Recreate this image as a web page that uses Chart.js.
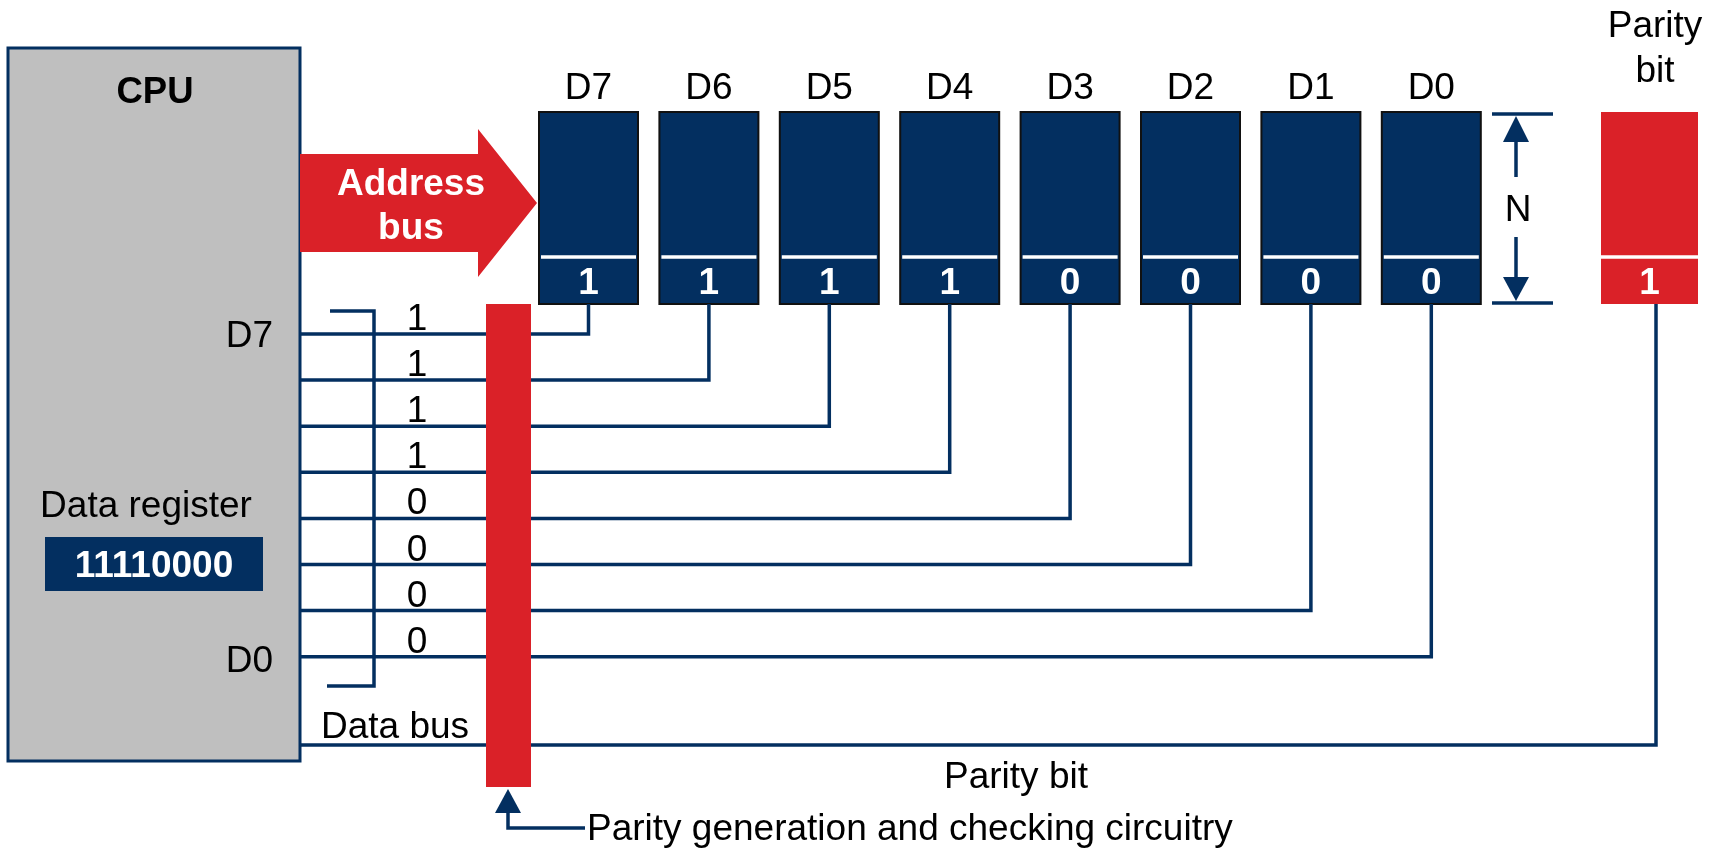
<!DOCTYPE html>
<html>
<head>
<meta charset="utf-8">
<script src="https://cdn.jsdelivr.net/npm/chart.js@4.4.1/dist/chart.umd.min.js"></script>
<style>
  html, body { margin: 0; padding: 0; background: #fff; }
  #wrap { width: 1721px; height: 852px; }
</style>
</head>
<body>
<div id="wrap"><canvas id="diagram"></canvas></div>
<script>
// Values shown in the picture
const cellLabels = ['D7', 'D6', 'D5', 'D4', 'D3', 'D2', 'D1', 'D0'];
const bitValues = [1, 1, 1, 1, 0, 0, 0, 0];
const parityValue = 1;
const registerValue = '11110000';

// Layout, in canvas pixels on the hidden axes
const W = 1721, H = 852;
const NAVY = '#032f60', RED = '#da2128', GRAY = '#bfbfbf';
const FONT = '"Liberation Sans", Arial, sans-serif';
const TXT = 37;
const cellLeft = 539, cellPitch = 120.4, cellWidth = 99;
const cellTop = 112, cellBottom = 304, cellSplit = 257;
const wireTop = 334, wireStep = 46.1, wireStart = 300;
const parityLeft = 1601, parityRight = 1698;
const parityWireX = 1656, parityWireY = 745;

const datasets = [];
const texts = [];

function poly(points, opts) {
  datasets.push(Object.assign({
    type: 'line',
    data: points.map(p => ({ x: p[0], y: p[1] })),
    showLine: true,
    pointRadius: 0,
    borderWidth: 0,
    borderColor: 'rgba(0,0,0,0)',
    backgroundColor: 'rgba(0,0,0,0)',
    borderJoinStyle: 'miter',
    borderCapStyle: 'butt',
    fill: false,
    tension: 0
  }, opts));
}
function rect(x1, y1, x2, y2, opts) {
  // extra point closes the outline corner cleanly
  poly([[x1, y1], [x2, y1], [x2, y2], [x1, y2], [x1, y1], [x2, y1]], Object.assign({ fill: 'shape' }, opts));
}
function wire(points, color, width) {
  poly(points, { borderColor: color || NAVY, borderWidth: width || 3.5 });
}
function shape(points, color) {
  poly(points, { fill: 'shape', backgroundColor: color || NAVY });
}
function label(text, x, y, size, opts) {
  texts.push(Object.assign({ text: String(text), x: x, y: y, size: size, bold: false, color: '#000', align: 'center' }, opts));
}

// CPU block
rect(8, 48, 300, 761, { backgroundColor: GRAY, borderColor: NAVY, borderWidth: 3 });
rect(45, 537, 263, 591, { backgroundColor: NAVY });
label('CPU', 155, 103, 36.5, { bold: true });
label('Data register', 146, 517, TXT);
label(registerValue, 154, 577, 37, { bold: true, color: '#fff' });
label('D7', 273, 347, TXT, { align: 'right' });
label('D0', 273, 672, TXT, { align: 'right' });

// Address bus arrow
shape([[300, 154], [478, 154], [478, 129], [537, 203], [478, 277], [478, 252], [300, 252], [300, 154]], RED);
label('Address', 411, 195, 37, { bold: true, color: '#fff' });
label('bus', 411, 239, 37, { bold: true, color: '#fff' });

// Memory cells
cellLabels.forEach((name, i) => {
  const l = cellLeft + i * cellPitch;
  const cx = l + cellWidth / 2;
  rect(l, cellTop, l + cellWidth, cellBottom, { backgroundColor: NAVY, borderColor: '#111', borderWidth: 2 });
  wire([[l + 2, cellSplit], [l + cellWidth - 2, cellSplit]], '#ffffff', 3.5);
  label(name, cx, 99, TXT);
  label(bitValues[i], cx, 294, 37, { bold: true, color: '#fff' });
});

// Parity cell
rect(parityLeft, cellTop, parityRight, cellBottom, { backgroundColor: RED });
wire([[parityLeft, cellSplit], [parityRight, cellSplit]], '#ffffff', 3.5);
label(parityValue, (parityLeft + parityRight) / 2, 294, 37, { bold: true, color: '#fff' });
label('Parity', 1655, 37, TXT);
label('bit', 1655, 82, TXT);

// Data wires from CPU to each cell
bitValues.forEach((v, i) => {
  const y = wireTop + i * wireStep;
  const cx = cellLeft + i * cellPitch + cellWidth / 2;
  wire([[wireStart, y], [cx, y], [cx, cellBottom]]);
  label(v, 417, y - 4, TXT);
});

// Parity wire
wire([[wireStart, parityWireY], [parityWireX, parityWireY], [parityWireX, cellBottom]]);
label('Data bus', 321, 738, TXT, { align: 'left' });
label('Parity bit', 1016, 788, TXT);

// Data bus bracket
wire([[330, 311], [374, 311], [374, 686], [327, 686]]);

// Parity generation and checking bar
rect(486, 304, 531, 787, { backgroundColor: RED });
shape([[508, 789], [521, 813], [495, 813], [508, 789]]);
wire([[508, 812], [508, 828], [585, 828]]);
label('Parity generation and checking circuitry', 587, 840, TXT, { align: 'left' });

// N dimension
wire([[1492, 114], [1553, 114]]);
wire([[1492, 303], [1553, 303]]);
wire([[1516, 140], [1516, 177]]);
wire([[1516, 237], [1516, 279]]);
shape([[1516, 116], [1529, 142], [1503, 142], [1516, 116]]);
shape([[1516, 301], [1529, 277], [1503, 277], [1516, 301]]);
label('N', 1518, 221, TXT);

// first pushed is drawn first
datasets.forEach((d, i) => { d.order = datasets.length - i; });

const textPlugin = {
  id: 'diagramText',
  afterDatasetsDraw(chart) {
    const ctx = chart.ctx;
    const xs = chart.scales.x, ys = chart.scales.y;
    ctx.save();
    texts.forEach(t => {
      ctx.font = (t.bold ? 'bold ' : '') + t.size + 'px ' + FONT;
      ctx.fillStyle = t.color;
      ctx.textAlign = t.align;
      ctx.textBaseline = 'alphabetic';
      ctx.fillText(t.text, xs.getPixelForValue(t.x), ys.getPixelForValue(t.y));
    });
    ctx.restore();
  }
};

new Chart(document.getElementById('diagram'), {
  type: 'scatter',
  data: { datasets: datasets },
  options: {
    responsive: true,
    maintainAspectRatio: false,
    animation: false,
    layout: { padding: 0 },
    plugins: { legend: { display: false }, tooltip: { enabled: false } },
    scales: {
      x: { type: 'linear', min: 0, max: W, display: false },
      y: { type: 'linear', min: 0, max: H, reverse: true, display: false }
    }
  },
  plugins: [textPlugin]
});
</script>
</body>
</html>
